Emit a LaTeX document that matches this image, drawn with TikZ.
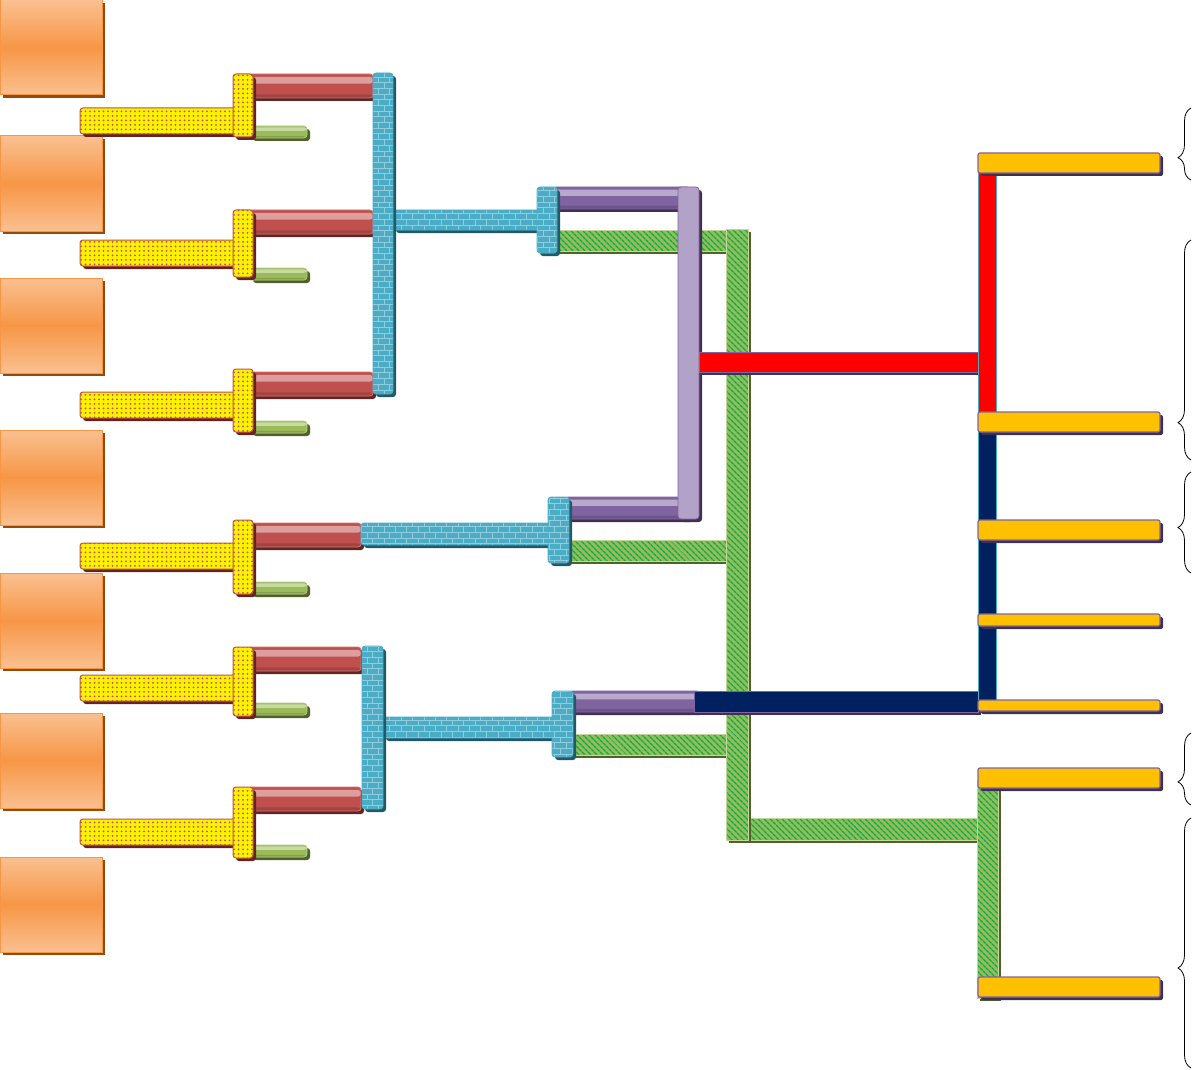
\documentclass[tikz,border=0pt]{standalone}
\usetikzlibrary{calc,patterns,patterns.meta,shadows,decorations.pathreplacing}

\definecolor{boxorange}{HTML}{F79646}
\definecolor{boxlight}{HTML}{FAC090}
\definecolor{boxshade}{HTML}{984807}
\definecolor{barred}{HTML}{C0504D}
\definecolor{redshade}{HTML}{632523}
\definecolor{bargreen}{HTML}{9BBB59}
\definecolor{greenshade}{HTML}{4F6228}
\definecolor{hatchgreen}{HTML}{00B050}
\definecolor{barblue}{HTML}{4BACC6}
\definecolor{brickline}{HTML}{93CDDD}
\definecolor{blueshade}{HTML}{215968}
\definecolor{barpurple}{HTML}{8064A2}
\definecolor{lightpurple}{HTML}{B3A2C7}
\definecolor{purpleshade}{HTML}{3F3151}
\definecolor{gold}{HTML}{FFC000}
\definecolor{navy}{HTML}{002060}

\tikzset{
  castshadow/.style={drop shadow={shadow xshift=3pt, shadow yshift=-3pt, fill=#1, opacity=1}},
  tube/.style={fill=#1, path picture={
      \fill[#1!55!white] ($(path picture bounding box.north west)!0.12!(path picture bounding box.south west)$)
        rectangle ($(path picture bounding box.north east)!0.40!(path picture bounding box.south east)$);
      \fill[#1!85!black] ($(path picture bounding box.north west)!0.85!(path picture bounding box.south west)$)
        rectangle (path picture bounding box.south east);}},
  orangebox/.style={castshadow=boxshade, draw=boxorange, line width=1pt,
    top color=boxlight, bottom color=boxlight, middle color=boxorange},
  yellowbar/.style={castshadow=redshade, draw=barred, line width=1pt, rounded corners=3pt,
    preaction={fill=yellow}, pattern={Dots[distance=4.5pt, radius=1pt]}, pattern color=barred},
  redbar/.style={castshadow=redshade, draw=barred!80!white, line width=0.8pt, rounded corners=3pt, tube=barred},
  smallgreen/.style={castshadow=greenshade, draw=bargreen!70!white, line width=0.6pt, rounded corners=3pt, tube=bargreen},
  brickbar/.style={castshadow=blueshade, draw=barblue, line width=0.8pt, rounded corners=3pt,
    preaction={fill=barblue}, pattern=bricks, pattern color=brickline},
  hatchbar/.style={castshadow=greenshade, draw=bargreen!60!white, line width=1pt,
    preaction={fill=bargreen}, pattern={Lines[angle=-45, distance=4pt, line width=1.5pt]}, pattern color=hatchgreen},
  purplebar/.style={castshadow=purpleshade, draw=barpurple, line width=0.8pt, rounded corners=3pt, tube=barpurple},
  purplepost/.style={castshadow=purpleshade, draw=barpurple, line width=0.8pt, rounded corners=3pt, fill=lightpurple},
  goldbar/.style={castshadow=purpleshade, draw=barpurple, line width=1.2pt, rounded corners=2pt, fill=gold},
  flatbar/.style={castshadow=purpleshade, draw=barpurple, line width=0.8pt, fill=#1},
  railbar/.style={draw=barblue, line width=1pt, fill=#1},
  sidebrace/.style={decorate, decoration={brace, amplitude=13pt, aspect=#1}, line width=0.8pt}
}

\begin{document}
\begin{tikzpicture}[x=1pt, y=-1pt]
  \useasboundingbox (0,0) rectangle (1195,1070);
  % source boxes
  \foreach \t in {0,136,278,430,573,713,857}
    \draw[orangebox] (0,\t) rectangle (102,\t+95);
  % yellow T pieces with their red and green stubs
  \foreach \vt/\vb/\ht/\rt/\re/\gt in {74/137/108/74/373/126, 210/277/240/210/373/268,
      369/432/392/372/373/421, 520/594/543/523/361/582, 647/716/675/647/361/703, 787/858/819/787/361/845} {
    \draw[redbar] (248,\rt) rectangle (\re,\rt+24);
    \draw[smallgreen] (250,\gt) rectangle (307,\gt+12);
    \draw[yellowbar] (80,\ht) rectangle (240,\ht+26);
    \draw[yellowbar] (233,\vt) rectangle (253,\vb);
  }
  % green and purple runs
  \draw[hatchbar] (557,230) rectangle (735,251);
  \draw[hatchbar] (569,540) rectangle (735,561);
  \draw[hatchbar] (573,734) rectangle (735,755);
  \draw[hatchbar] (735,818) rectangle (978,840);
  \draw[hatchbar] (726,229) rectangle (748,840);
  \draw[purplebar] (553,187) rectangle (690,209);
  \draw[purplebar] (565,497) rectangle (690,519);
  \draw[purplepost] (678,187) rectangle (699,519);
  \draw[purplebar] (569,691) rectangle (700,712);
  \draw[flatbar=red] (699,352) rectangle (978,372);
  \draw[flatbar=navy] (694,691) rectangle (978,712);
  % brick columns
  \draw[brickbar] (393,210) rectangle (540,230);
  \draw[brickbar] (373,73) rectangle (393,394);
  \draw[brickbar] (537,187) rectangle (557,253);
  \draw[brickbar] (361,523) rectangle (550,545);
  \draw[brickbar] (548,497) rectangle (569,563);
  \draw[brickbar] (383,717) rectangle (555,738);
  \draw[brickbar] (362,646) rectangle (383,809);
  \draw[brickbar] (552,691) rectangle (573,757);
  % right-hand rails
  \draw[railbar=red] (978,173) rectangle (996,412);
  \draw[railbar=navy] (978,430) rectangle (996,702);
  \draw[hatchbar] (977,780) rectangle (998,998);
  % gold leaves
  \foreach \t/\b in {153/173, 412/432, 520/540, 614/626, 700/711, 768/788, 977/997}
    \draw[goldbar] (978,\t) rectangle (1160,\b);
  % braces
  \draw[sidebrace=0.31] (1191,180) -- (1191,108);
  \draw[sidebrace=0.17] (1191,460) -- (1191,240);
  \draw[sidebrace=0.45] (1191,573) -- (1191,472);
  \draw[sidebrace=0.32] (1191,805) -- (1191,733);
  \draw[sidebrace=0.40] (1191,1068) -- (1191,818);
\end{tikzpicture}
\end{document}
